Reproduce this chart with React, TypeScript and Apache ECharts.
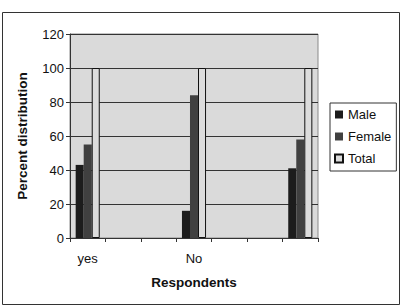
import React, { useEffect, useRef } from "react";
import * as echarts from "echarts";

const categories = ["yes", "", "", "No", "", "", ""];
const maleValues = [43, null, null, 16, null, null, 41];
const femaleValues = [55, null, null, 84, null, null, 58];
const totalValues = [100, null, null, 100, null, null, 100];
const seriesNames = ["Male", "Female", "Total"];

export default function App() {
  const ref = useRef<HTMLDivElement>(null);
  useEffect(() => {
    const chart = echarts.init(ref.current!, null, { renderer: "svg" });
    const font = "Liberation Sans, Arial, sans-serif";
    chart.setOption({
      animation: false,
      backgroundColor: "#ffffff",
      graphic: [
        {
          type: "rect",
          shape: { x: 2.5, y: 12.5, width: 397, height: 292 },
          style: { fill: "none", stroke: "#333", lineWidth: 1 },
          silent: true,
          z: 100,
        },
      ],
      grid: {
        left: 70,
        right: 90,
        top: 34,
        bottom: 70,
        show: true,
        backgroundColor: "#dadada",
        borderColor: "#8a8a8a",
        borderWidth: 1,
      },
      legend: {
        orient: "vertical",
        left: 330,
        top: 103,
        data: seriesNames,
        icon: "rect",
        itemWidth: 8,
        itemHeight: 8,
        itemGap: 7,
        padding: [4, 5, 5, 4],
        borderColor: "#333",
        borderWidth: 1,
        backgroundColor: "#fff",
        textStyle: { fontFamily: font, fontSize: 13, color: "#111", lineHeight: 15 },
      },
      xAxis: {
        type: "category",
        data: categories,
        boundaryGap: true,
        name: "Respondents",
        nameLocation: "middle",
        nameGap: 37,
        nameTextStyle: { fontFamily: font, fontSize: 13.5, fontWeight: "bold", color: "#111" },
        axisLine: { show: true, lineStyle: { color: "#333" } },
        axisTick: { show: true, interval: 0, length: 4, lineStyle: { color: "#333" } },
        axisLabel: { interval: 0, fontFamily: font, fontSize: 13, color: "#111", margin: 14 },
      },
      yAxis: {
        type: "value",
        min: 0,
        max: 120,
        interval: 20,
        name: "Percent distribution",
        nameLocation: "middle",
        nameGap: 41,
        nameTextStyle: { fontFamily: font, fontSize: 13.5, fontWeight: "bold", color: "#111" },
        axisLine: { show: true, lineStyle: { color: "#333" } },
        axisTick: { show: true, length: 4, lineStyle: { color: "#333" } },
        axisLabel: { fontFamily: font, fontSize: 13, color: "#111", margin: 6 },
        splitLine: { show: true, lineStyle: { color: "#333", width: 1 } },
      },
      series: [
        {
          name: "Male",
          type: "bar",
          data: maleValues,
          barGap: "0%",
          barCategoryGap: "32%",
          itemStyle: { color: "#1c1c1c" },
        },
        {
          name: "Female",
          type: "bar",
          data: femaleValues,
          barGap: "0%",
          barCategoryGap: "32%",
          itemStyle: { color: "#404040" },
        },
        {
          name: "Total",
          type: "bar",
          data: totalValues,
          barGap: "0%",
          barCategoryGap: "32%",
          itemStyle: { color: "#dcdcdc", borderColor: "#111", borderWidth: 1 },
        },
      ],
    });
    return () => chart.dispose();
  }, []);
  return (
    <div
      ref={ref}
      style={{ position: "absolute", left: 0, top: 0, width: 408, height: 308 }}
    />
  );
}
